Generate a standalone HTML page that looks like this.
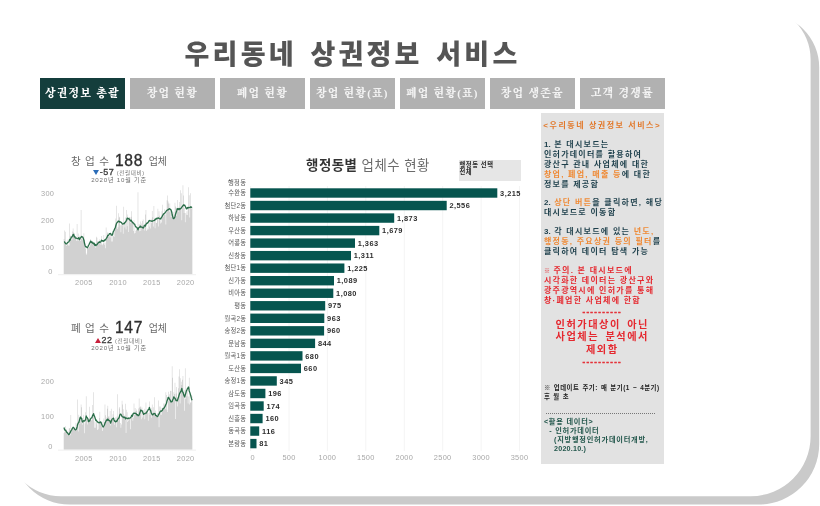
<!DOCTYPE html>
<html lang="ko"><head><meta charset="utf-8"><title>우리동네 상권정보 서비스</title>
<style>
html,body{margin:0;padding:0;background:#fff;}
body{width:820px;height:506px;position:relative;overflow:hidden;font-family:"Liberation Sans","Noto Sans CJK KR",sans-serif;}
.abs{position:absolute;}
.title{position:absolute;left:0;width:705px;top:34.5px;text-align:center;font-size:27px;line-height:40px;font-weight:900;color:#555;letter-spacing:3.2px;word-spacing:3px;white-space:nowrap;}
.tab{position:absolute;top:77.7px;width:85.3px;height:31.3px;line-height:31px;background:#b1b1b1;color:#f3f3f3;text-align:center;font-family:"Liberation Serif","Noto Serif CJK SC",serif;font-weight:900;font-size:11px;letter-spacing:1.2px;white-space:nowrap;}
.tab.on{background:#143e3c;color:#fff;}
.kt{position:absolute;left:39px;width:160px;text-align:center;white-space:nowrap;color:#6a6a6a;}
.kt .a{font-size:10.6px;letter-spacing:.2px;word-spacing:1.1px}
.kt .n{font-size:15.6px;position:relative;top:.6px;color:#2f2f2f;letter-spacing:.7px;-webkit-text-stroke:.35px #2f2f2f;margin:0 1.2px}
.kt .b{font-size:10px;}
.sub{position:absolute;left:39px;width:160px;text-align:center;white-space:nowrap;color:#6e6e6e;font-size:6.5px;line-height:9px;letter-spacing:.55px}
.sub .v{font-size:9px;color:#3a3a3a;letter-spacing:.5px;-webkit-text-stroke:.3px #3a3a3a}
.sub.s3{font-size:6.1px;letter-spacing:.8px}
.tri{display:inline-block;width:0;height:0;border-left:3.5px solid transparent;border-right:3.5px solid transparent;vertical-align:0px;margin-right:.6px}
.tri.up{border-bottom:5.2px solid #c8203c}
.tri.dn{border-top:5.2px solid #2b6cb8}
.sub .p{font-size:5.6px;color:#777;letter-spacing:.65px}
.ax text{font-size:7.4px;fill:#a8a8a8;font-family:"Liberation Sans",sans-serif;letter-spacing:.3px}
.bl{font-size:6.3px;letter-spacing:.25px;fill:#5a5a5a;font-family:"Liberation Sans","Noto Sans CJK KR",sans-serif;}
.bv{font-size:7.4px;font-weight:bold;fill:#2e2e2e;font-family:"Liberation Sans",sans-serif;letter-spacing:.45px}
.btitle{position:absolute;left:290px;width:156px;top:155.5px;text-align:center;font-size:13.4px;line-height:20px;color:#6b6b6b;white-space:nowrap;letter-spacing:.5px}
.btitle b{color:#333;}
.filter{position:absolute;left:459px;top:159.5px;width:61.5px;height:21.2px;background:#e6e6e6;font-size:6.3px;line-height:7.05px;font-weight:bold;color:#2a2a2a;letter-spacing:.55px}
.filter div{padding:1.0px 0 0 .5px}
.panel{position:absolute;left:540.5px;top:113.4px;width:123.5px;height:350.6px;background:#e2e2e2;}
.panel .t{position:absolute;left:3.4px;white-space:nowrap;font-weight:bold;font-size:8px;line-height:9.93px;letter-spacing:1.26px;word-spacing:0px;color:#1d3f4b;}
.panel .c{left:0;width:123.5px;text-align:center;}
.panel .o{color:#ef8a36}
.panel .c.o{color:#e2792b}
.panel .r{color:#e5282f}
</style></head><body>
<svg class="abs" style="left:0;top:0" width="820" height="506" viewBox="0 0 820 506">
<path d="M67.0 13.5 H765.2 A54.0 54.0 0 0 1 819.2 67.5 V444.0 A60.5 60.5 0 0 1 758.7 504.5 H69.5 A56.5 56.5 0 0 1 13.0 448.0 V67.5 A54.0 54.0 0 0 1 67.0 13.5 Z" fill="#cacaca"/>
<path d="M59.0 5.5 H756.6 A54.0 54.0 0 0 1 810.6 59.5 V436.2 A60.0 60.0 0 0 1 750.6 496.2 H61.0 A56.0 56.0 0 0 1 5.0 440.2 V59.5 A54.0 54.0 0 0 1 59.0 5.5 Z" fill="#fff"/>
</svg>
<div class="title">우리동네 상권정보 서비스</div>
<div class="tab on" style="left:39.7px">상권정보 총괄</div>
<div class="tab" style="left:129.7px">창업 현황</div>
<div class="tab" style="left:219.7px">폐업 현황</div>
<div class="tab" style="left:309.7px">창업 현황(표)</div>
<div class="tab" style="left:399.7px">폐업 현황(표)</div>
<div class="tab" style="left:489.7px">창업 생존율</div>
<div class="tab" style="left:579.7px">고객 경쟁률</div>

<div class="kt" style="top:148px;line-height:24px"><span class="a">창 업 수</span> <span class="n">188</span> <span class="b">업체</span></div>
<div class="sub" style="top:167.7px"><i class="tri dn"></i><span class="v">-57</span> <span class="p">(전월대비)</span></div>
<div class="sub s3" style="top:175.4px">2020년 10월 기준</div>
<div class="kt" style="top:315px;line-height:24px"><span class="a">폐 업 수</span> <span class="n">147</span> <span class="b">업체</span></div>
<div class="sub" style="top:336px"><i class="tri up"></i><span class="v">22</span> <span class="p">(전월대비)</span></div>
<div class="sub s3" style="top:342.5px">2020년 10월 기준</div>
<div class="btitle"><b>행정동별</b> 업체수 현황</div>
<div class="filter"><div>행정동 선택<br>전체</div></div>
<svg class="abs" style="left:0;top:0" width="820" height="506" viewBox="0 0 820 506">
<line x1="250.6" y1="186" x2="250.6" y2="451" stroke="#f4f4f4" stroke-width="1"/>
<line x1="289.0" y1="186" x2="289.0" y2="451" stroke="#f4f4f4" stroke-width="1"/>
<line x1="327.4" y1="186" x2="327.4" y2="451" stroke="#f4f4f4" stroke-width="1"/>
<line x1="365.8" y1="186" x2="365.8" y2="451" stroke="#f4f4f4" stroke-width="1"/>
<line x1="404.3" y1="186" x2="404.3" y2="451" stroke="#f4f4f4" stroke-width="1"/>
<line x1="442.7" y1="186" x2="442.7" y2="451" stroke="#f4f4f4" stroke-width="1"/>
<line x1="481.1" y1="186" x2="481.1" y2="451" stroke="#f4f4f4" stroke-width="1"/>
<line x1="519.5" y1="186" x2="519.5" y2="451" stroke="#f4f4f4" stroke-width="1"/>
<path d="M63.71 274.21L63.71 239.03 L64.28 239.03L64.28 230.44 L64.85 230.44L64.85 244.07 L65.42 244.07L65.42 231.68 L65.99 231.68L65.99 245.93 L66.56 245.93L66.56 242.42 L67.13 242.42L67.13 244.69 L67.70 244.69L67.70 239.47 L68.27 239.47L68.27 245.38 L68.84 245.38L68.84 245.51 L69.41 245.51L69.41 223.38 L69.97 223.38L69.97 235.96 L70.54 235.96L70.54 235.47 L71.11 235.47L71.11 239.66 L71.68 239.66L71.68 240.30 L72.25 240.30L72.25 231.52 L72.82 231.52L72.82 228.56 L73.39 228.56L73.39 232.61 L73.96 232.61L73.96 233.08 L74.53 233.08L74.53 236.02 L75.10 236.02L75.10 238.60 L75.67 238.60L75.67 237.32 L76.24 237.32L76.24 240.90 L76.80 240.90L76.80 223.99 L77.37 223.99L77.37 240.40 L77.94 240.40L77.94 233.61 L78.51 233.61L78.51 240.66 L79.08 240.66L79.08 236.67 L79.65 236.67L79.65 235.65 L80.22 235.65L80.22 240.98 L80.79 240.98L80.79 209.90 L81.36 209.90L81.36 238.79 L81.93 238.79L81.93 240.27 L82.50 240.27L82.50 238.86 L83.07 238.86L83.07 236.46 L83.63 236.46L83.63 233.17 L84.20 233.17L84.20 239.77 L84.77 239.77L84.77 242.57 L85.34 242.57L85.34 248.67 L85.91 248.67L85.91 253.46 L86.48 253.46L86.48 254.79 L87.05 254.79L87.05 248.33 L87.62 248.33L87.62 246.25 L88.19 246.25L88.19 248.13 L88.76 248.13L88.76 246.20 L89.33 246.20L89.33 246.91 L89.90 246.91L89.90 245.24 L90.46 245.24L90.46 239.08 L91.03 239.08L91.03 241.29 L91.60 241.29L91.60 242.00 L92.17 242.00L92.17 241.20 L92.74 241.20L92.74 241.40 L93.31 241.40L93.31 242.51 L93.88 242.51L93.88 245.99 L94.45 245.99L94.45 244.52 L95.02 244.52L95.02 247.28 L95.59 247.28L95.59 247.68 L96.16 247.68L96.16 236.87 L96.73 236.87L96.73 237.81 L97.29 237.81L97.29 241.32 L97.86 241.32L97.86 242.14 L98.43 242.14L98.43 241.26 L99.00 241.26L99.00 244.07 L99.57 244.07L99.57 239.16 L100.14 239.16L100.14 242.39 L100.71 242.39L100.71 245.02 L101.28 245.02L101.28 236.03 L101.85 236.03L101.85 244.01 L102.42 244.01L102.42 245.37 L102.99 245.37L102.99 243.54 L103.56 243.54L103.56 235.09 L104.12 235.09L104.12 244.73 L104.69 244.73L104.69 242.82 L105.26 242.82L105.26 248.15 L105.83 248.15L105.83 227.53 L106.40 227.53L106.40 239.73 L106.97 239.73L106.97 233.44 L107.54 233.44L107.54 232.35 L108.11 232.35L108.11 235.27 L108.68 235.27L108.68 234.54 L109.25 234.54L109.25 236.23 L109.82 236.23L109.82 237.48 L110.39 237.48L110.39 233.63 L110.95 233.63L110.95 241.57 L111.52 241.57L111.52 234.28 L112.09 234.28L112.09 241.49 L112.66 241.49L112.66 232.55 L113.23 232.55L113.23 236.11 L113.80 236.11L113.80 236.91 L114.37 236.91L114.37 229.34 L114.94 229.34L114.94 223.73 L115.51 223.73L115.51 218.59 L116.08 218.59L116.08 205.75 L116.65 205.75L116.65 226.73 L117.21 226.73L117.21 228.94 L117.78 228.94L117.78 227.22 L118.35 227.22L118.35 213.35 L118.92 213.35L118.92 217.50 L119.49 217.50L119.49 216.78 L120.06 216.78L120.06 225.21 L120.63 225.21L120.63 232.34 L121.20 232.34L121.20 221.97 L121.77 221.97L121.77 225.47 L122.34 225.47L122.34 223.71 L122.91 223.71L122.91 233.71 L123.48 233.71L123.48 206.78 L124.04 206.78L124.04 224.36 L124.61 224.36L124.61 227.55 L125.18 227.55L125.18 217.44 L125.75 217.44L125.75 229.40 L126.32 229.40L126.32 209.90 L126.89 209.90L126.89 226.25 L127.46 226.25L127.46 214.48 L128.03 214.48L128.03 232.12 L128.60 232.12L128.60 217.14 L129.17 217.14L129.17 217.06 L129.74 217.06L129.74 217.52 L130.31 217.52L130.31 222.88 L130.87 222.88L130.87 216.64 L131.44 216.64L131.44 211.23 L132.01 211.23L132.01 220.64 L132.58 220.64L132.58 223.02 L133.15 223.02L133.15 231.06 L133.72 231.06L133.72 220.26 L134.29 220.26L134.29 233.59 L134.86 233.59L134.86 232.93 L135.43 232.93L135.43 230.66 L136.00 230.66L136.00 229.53 L136.57 229.53L136.57 226.87 L137.14 226.87L137.14 229.98 L137.70 229.98L137.70 192.26 L138.27 192.26L138.27 227.07 L138.84 227.07L138.84 223.92 L139.41 223.92L139.41 231.36 L139.98 231.36L139.98 221.40 L140.55 221.40L140.55 231.02 L141.12 231.02L141.12 223.44 L141.69 223.44L141.69 225.39 L142.26 225.39L142.26 220.90 L142.83 220.90L142.83 219.41 L143.40 219.41L143.40 226.84 L143.97 226.84L143.97 230.51 L144.53 230.51L144.53 227.60 L145.10 227.60L145.10 214.50 L145.67 214.50L145.67 209.90 L146.24 209.90L146.24 230.88 L146.81 230.88L146.81 230.04 L147.38 230.04L147.38 228.46 L147.95 228.46L147.95 224.17 L148.52 224.17L148.52 229.30 L149.09 229.30L149.09 226.43 L149.66 226.43L149.66 220.01 L150.23 220.01L150.23 228.59 L150.80 228.59L150.80 218.81 L151.36 218.81L151.36 223.27 L151.93 223.27L151.93 210.93 L152.50 210.93L152.50 217.35 L153.07 217.35L153.07 226.59 L153.64 226.59L153.64 205.99 L154.21 205.99L154.21 221.33 L154.78 221.33L154.78 228.34 L155.35 228.34L155.35 220.29 L155.92 220.29L155.92 222.84 L156.49 222.84L156.49 223.02 L157.06 223.02L157.06 219.04 L157.63 219.04L157.63 208.73 L158.19 208.73L158.19 226.47 L158.76 226.47L158.76 211.32 L159.33 211.32L159.33 215.82 L159.90 215.82L159.90 220.13 L160.47 220.13L160.47 223.42 L161.04 223.42L161.04 222.48 L161.61 222.48L161.61 211.18 L162.18 211.18L162.18 204.71 L162.75 204.71L162.75 213.28 L163.32 213.28L163.32 216.59 L163.89 216.59L163.89 214.38 L164.46 214.38L164.46 209.18 L165.02 209.18L165.02 214.62 L165.59 214.62L165.59 224.39 L166.16 224.39L166.16 212.72 L166.73 212.72L166.73 200.31 L167.30 200.31L167.30 195.47 L167.87 195.47L167.87 201.60 L168.44 201.60L168.44 203.59 L169.01 203.59L169.01 211.63 L169.58 211.63L169.58 203.50 L170.15 203.50L170.15 208.25 L170.72 208.25L170.72 216.97 L171.29 216.97L171.29 214.61 L171.85 214.61L171.85 215.15 L172.42 215.15L172.42 212.33 L172.99 212.33L172.99 216.21 L173.56 216.21L173.56 212.17 L174.13 212.17L174.13 217.33 L174.70 217.33L174.70 202.63 L175.27 202.63L175.27 206.42 L175.84 206.42L175.84 207.80 L176.41 207.80L176.41 215.82 L176.98 215.82L176.98 199.90 L177.55 199.90L177.55 208.34 L178.12 208.34L178.12 211.76 L178.68 211.76L178.68 206.79 L179.25 206.79L179.25 202.07 L179.82 202.07L179.82 208.18 L180.39 208.18L180.39 190.23 L180.96 190.23L180.96 193.30 L181.53 193.30L181.53 220.16 L182.10 220.16L182.10 205.82 L182.67 205.82L182.67 185.15 L183.24 185.15L183.24 195.45 L183.81 195.45L183.81 212.91 L184.38 212.91L184.38 207.75 L184.95 207.75L184.95 222.33 L185.51 222.33L185.51 212.92 L186.08 212.92L186.08 214.84 L186.65 214.84L186.65 211.18 L187.22 211.18L187.22 214.92 L187.79 214.92L187.79 209.09 L188.36 209.09L188.36 187.30 L188.93 187.30L188.93 195.34 L189.50 195.34L189.50 217.45 L190.07 217.45L190.07 193.30 L190.64 193.30L190.64 206.02 L191.21 206.02L191.21 209.03 L191.78 209.03L191.78 206.66 L192.34 206.66L192.34 274.21 Z" fill="#d1d1d1"/>
<path d="M64.00 242.10 L64.57 241.99 L65.14 243.00 L65.71 243.70 L66.27 243.97 L66.84 243.72 L67.41 242.75 L67.98 242.24 L68.55 241.96 L69.12 241.38 L69.69 239.46 L70.26 240.03 L70.83 238.46 L71.40 237.17 L71.97 236.83 L72.54 235.85 L73.10 234.63 L73.67 234.51 L74.24 236.93 L74.81 236.40 L75.38 238.13 L75.95 238.04 L76.52 238.15 L77.09 238.56 L77.66 238.59 L78.23 238.51 L78.80 237.60 L79.37 239.55 L79.93 238.76 L80.50 237.90 L81.07 237.30 L81.64 236.48 L82.21 236.82 L82.78 237.21 L83.35 238.51 L83.92 240.20 L84.49 243.35 L85.06 245.41 L85.63 246.79 L86.20 246.75 L86.76 247.18 L87.33 247.69 L87.90 246.77 L88.47 245.46 L89.04 244.53 L89.61 243.22 L90.18 242.11 L90.75 241.00 L91.32 242.39 L91.89 241.98 L92.46 243.14 L93.03 242.84 L93.59 243.93 L94.16 243.21 L94.73 245.27 L95.30 244.54 L95.87 245.72 L96.44 244.88 L97.01 244.58 L97.58 243.61 L98.15 243.08 L98.72 242.53 L99.29 241.79 L99.86 242.46 L100.42 242.00 L100.99 241.32 L101.56 240.18 L102.13 240.96 L102.70 240.61 L103.27 241.39 L103.84 240.73 L104.41 240.75 L104.98 239.66 L105.55 239.86 L106.12 238.75 L106.69 237.94 L107.25 236.90 L107.82 235.32 L108.39 235.39 L108.96 234.68 L109.53 233.67 L110.10 233.54 L110.67 233.45 L111.24 235.05 L111.81 235.17 L112.38 235.20 L112.95 232.87 L113.52 231.04 L114.08 230.30 L114.65 228.85 L115.22 227.74 L115.79 226.06 L116.36 223.79 L116.93 222.71 L117.50 222.31 L118.07 221.22 L118.64 221.14 L119.21 222.02 L119.78 221.43 L120.35 222.10 L120.91 222.24 L121.48 222.59 L122.05 223.42 L122.62 224.13 L123.19 223.98 L123.76 223.43 L124.33 223.78 L124.90 222.29 L125.47 222.04 L126.04 221.10 L126.61 220.27 L127.18 218.23 L127.74 218.24 L128.31 218.74 L128.88 218.54 L129.45 219.64 L130.02 220.00 L130.59 220.95 L131.16 220.29 L131.73 221.47 L132.30 222.01 L132.87 222.84 L133.44 222.98 L134.01 224.06 L134.57 224.03 L135.14 225.59 L135.71 226.70 L136.28 227.17 L136.85 227.30 L137.42 228.55 L137.99 229.83 L138.56 227.93 L139.13 227.53 L139.70 227.15 L140.27 225.99 L140.84 227.19 L141.40 226.99 L141.97 227.03 L142.54 227.59 L143.11 228.14 L143.68 227.57 L144.25 225.63 L144.82 225.23 L145.39 225.99 L145.96 224.25 L146.53 223.78 L147.10 222.96 L147.67 223.17 L148.23 222.20 L148.80 221.18 L149.37 220.40 L149.94 220.89 L150.51 220.94 L151.08 220.82 L151.65 221.25 L152.22 221.28 L152.79 220.81 L153.36 220.69 L153.93 220.51 L154.50 220.35 L155.06 219.25 L155.63 219.60 L156.20 218.32 L156.77 218.80 L157.34 218.19 L157.91 218.20 L158.48 217.81 L159.05 218.50 L159.62 218.78 L160.19 218.67 L160.76 219.02 L161.33 217.46 L161.89 216.83 L162.46 215.74 L163.03 214.98 L163.60 214.05 L164.17 213.53 L164.74 213.24 L165.31 212.32 L165.88 211.69 L166.45 210.74 L167.02 210.36 L167.59 209.83 L168.15 209.81 L168.72 209.34 L169.29 208.59 L169.86 209.16 L170.43 209.38 L171.00 209.85 L171.57 211.48 L172.14 214.53 L172.71 216.67 L173.28 218.58 L173.85 218.58 L174.42 217.91 L174.98 216.41 L175.55 214.23 L176.12 212.53 L176.69 210.89 L177.26 208.59 L177.83 209.29 L178.40 208.73 L178.97 209.72 L179.54 208.67 L180.11 209.17 L180.68 208.57 L181.25 208.10 L181.81 207.02 L182.38 206.60 L182.95 205.73 L183.52 204.82 L184.09 205.42 L184.66 205.11 L185.23 206.19 L185.80 207.47 L186.37 208.85 L186.94 208.58 L187.51 207.54 L188.08 208.08 L188.64 207.28 L189.21 207.28 L189.78 207.69 L190.35 207.45 L190.92 206.80 L191.49 207.37 L192.06 207.55" fill="none" stroke="#2a6e49" stroke-width="1.3" stroke-linejoin="round"/>
<path d="M63.71 449.63L63.71 433.01 L64.28 433.01L64.28 431.85 L64.85 431.85L64.85 430.17 L65.42 430.17L65.42 426.21 L65.99 426.21L65.99 429.52 L66.56 429.52L66.56 431.13 L67.13 431.13L67.13 435.35 L67.70 435.35L67.70 431.41 L68.27 431.41L68.27 434.58 L68.84 434.58L68.84 428.18 L69.41 428.18L69.41 428.32 L69.97 428.32L69.97 435.20 L70.54 435.20L70.54 414.98 L71.11 414.98L71.11 428.53 L71.68 428.53L71.68 429.26 L72.25 429.26L72.25 429.27 L72.82 429.27L72.82 425.99 L73.39 425.99L73.39 428.59 L73.96 428.59L73.96 430.46 L74.53 430.46L74.53 428.92 L75.10 428.92L75.10 429.45 L75.67 429.45L75.67 422.73 L76.24 422.73L76.24 426.99 L76.80 426.99L76.80 424.04 L77.37 424.04L77.37 399.42 L77.94 399.42L77.94 431.55 L78.51 431.55L78.51 414.69 L79.08 414.69L79.08 417.19 L79.65 417.19L79.65 423.66 L80.22 423.66L80.22 417.18 L80.79 417.18L80.79 404.61 L81.36 404.61L81.36 407.19 L81.93 407.19L81.93 424.76 L82.50 424.76L82.50 420.50 L83.07 420.50L83.07 414.75 L83.63 414.75L83.63 422.08 L84.20 422.08L84.20 433.28 L84.77 433.28L84.77 423.44 L85.34 423.44L85.34 412.32 L85.91 412.32L85.91 396.31 L86.48 396.31L86.48 418.41 L87.05 418.41L87.05 424.61 L87.62 424.61L87.62 418.61 L88.19 418.61L88.19 422.34 L88.76 422.34L88.76 418.71 L89.33 418.71L89.33 406.68 L89.90 406.68L89.90 419.66 L90.46 419.66L90.46 419.95 L91.03 419.95L91.03 420.41 L91.60 420.41L91.60 419.85 L92.17 419.85L92.17 404.91 L92.74 404.91L92.74 417.48 L93.31 417.48L93.31 392.16 L93.88 392.16L93.88 421.51 L94.45 421.51L94.45 427.73 L95.02 427.73L95.02 427.66 L95.59 427.66L95.59 422.22 L96.16 422.22L96.16 421.96 L96.73 421.96L96.73 424.15 L97.29 424.15L97.29 429.93 L97.86 429.93L97.86 429.19 L98.43 429.19L98.43 421.45 L99.00 421.45L99.00 417.92 L99.57 417.92L99.57 411.87 L100.14 411.87L100.14 423.94 L100.71 423.94L100.71 423.13 L101.28 423.13L101.28 425.71 L101.85 425.71L101.85 421.60 L102.42 421.60L102.42 431.02 L102.99 431.02L102.99 428.26 L103.56 428.26L103.56 418.42 L104.12 418.42L104.12 422.04 L104.69 422.04L104.69 404.61 L105.26 404.61L105.26 415.22 L105.83 415.22L105.83 419.48 L106.40 419.48L106.40 417.50 L106.97 417.50L106.97 408.83 L107.54 408.83L107.54 405.65 L108.11 405.65L108.11 416.70 L108.68 416.70L108.68 416.13 L109.25 416.13L109.25 418.48 L109.82 418.48L109.82 410.95 L110.39 410.95L110.39 425.58 L110.95 425.58L110.95 408.76 L111.52 408.76L111.52 419.07 L112.09 419.07L112.09 419.91 L112.66 419.91L112.66 414.18 L113.23 414.18L113.23 410.92 L113.80 410.92L113.80 419.89 L114.37 419.89L114.37 424.66 L114.94 424.66L114.94 419.88 L115.51 419.88L115.51 417.24 L116.08 417.24L116.08 427.25 L116.65 427.25L116.65 416.46 L117.21 416.46L117.21 394.23 L117.78 394.23L117.78 421.43 L118.35 421.43L118.35 418.17 L118.92 418.17L118.92 408.42 L119.49 408.42L119.49 407.03 L120.06 407.03L120.06 422.99 L120.63 422.99L120.63 427.84 L121.20 427.84L121.20 424.58 L121.77 424.58L121.77 400.68 L122.34 400.68L122.34 404.61 L122.91 404.61L122.91 409.27 L123.48 409.27L123.48 413.74 L124.04 413.74L124.04 418.51 L124.61 418.51L124.61 415.46 L125.18 415.46L125.18 403.85 L125.75 403.85L125.75 432.93 L126.32 432.93L126.32 409.79 L126.89 409.79L126.89 412.29 L127.46 412.29L127.46 422.07 L128.03 422.07L128.03 420.82 L128.60 420.82L128.60 417.71 L129.17 417.71L129.17 418.41 L129.74 418.41L129.74 418.13 L130.31 418.13L130.31 429.19 L130.87 429.19L130.87 416.20 L131.44 416.20L131.44 416.49 L132.01 416.49L132.01 413.66 L132.58 413.66L132.58 420.66 L133.15 420.66L133.15 417.71 L133.72 417.71L133.72 403.57 L134.29 403.57L134.29 414.98 L134.86 414.98L134.86 407.96 L135.43 407.96L135.43 411.38 L136.00 411.38L136.00 409.51 L136.57 409.51L136.57 410.90 L137.14 410.90L137.14 415.69 L137.70 415.69L137.70 413.71 L138.27 413.71L138.27 408.51 L138.84 408.51L138.84 398.38 L139.41 398.38L139.41 407.58 L139.98 407.58L139.98 407.14 L140.55 407.14L140.55 406.21 L141.12 406.21L141.12 419.32 L141.69 419.32L141.69 407.52 L142.26 407.52L142.26 417.62 L142.83 417.62L142.83 412.34 L143.40 412.34L143.40 410.31 L143.97 410.31L143.97 408.63 L144.53 408.63L144.53 419.16 L145.10 419.16L145.10 411.66 L145.67 411.66L145.67 402.53 L146.24 402.53L146.24 410.73 L146.81 410.73L146.81 409.76 L147.38 409.76L147.38 413.05 L147.95 413.05L147.95 420.80 L148.52 420.80L148.52 412.98 L149.09 412.98L149.09 401.56 L149.66 401.56L149.66 415.06 L150.23 415.06L150.23 411.28 L150.80 411.28L150.80 407.75 L151.36 407.75L151.36 417.80 L151.93 417.80L151.93 404.61 L152.50 404.61L152.50 412.90 L153.07 412.90L153.07 407.23 L153.64 407.23L153.64 413.51 L154.21 413.51L154.21 397.32 L154.78 397.32L154.78 412.83 L155.35 412.83L155.35 410.43 L155.92 410.43L155.92 416.87 L156.49 416.87L156.49 415.31 L157.06 415.31L157.06 412.96 L157.63 412.96L157.63 417.45 L158.19 417.45L158.19 400.46 L158.76 400.46L158.76 427.35 L159.33 427.35L159.33 406.56 L159.90 406.56L159.90 414.69 L160.47 414.69L160.47 406.46 L161.04 406.46L161.04 414.73 L161.61 414.73L161.61 408.46 L162.18 408.46L162.18 409.37 L162.75 409.37L162.75 408.51 L163.32 408.51L163.32 403.47 L163.89 403.47L163.89 408.55 L164.46 408.55L164.46 403.39 L165.02 403.39L165.02 409.03 L165.59 409.03L165.59 392.16 L166.16 392.16L166.16 395.12 L166.73 395.12L166.73 409.74 L167.30 409.74L167.30 411.89 L167.87 411.89L167.87 401.25 L168.44 401.25L168.44 391.81 L169.01 391.81L169.01 394.19 L169.58 394.19L169.58 397.95 L170.15 397.95L170.15 390.74 L170.72 390.74L170.72 390.92 L171.29 390.92L171.29 402.26 L171.85 402.26L171.85 366.22 L172.42 366.22L172.42 377.69 L172.99 377.69L172.99 400.86 L173.56 400.86L173.56 392.32 L174.13 392.32L174.13 393.88 L174.70 393.88L174.70 382.82 L175.27 382.82L175.27 419.09 L175.84 419.09L175.84 393.57 L176.41 393.57L176.41 386.90 L176.98 386.90L176.98 406.38 L177.55 406.38L177.55 396.84 L178.12 396.84L178.12 388.20 L178.68 388.20L178.68 376.60 L179.25 376.60L179.25 369.15 L179.82 369.15L179.82 403.61 L180.39 403.61L180.39 378.35 L180.96 378.35L180.96 381.77 L181.53 381.77L181.53 384.90 L182.10 384.90L182.10 379.71 L182.67 379.71L182.67 376.03 L183.24 376.03L183.24 396.44 L183.81 396.44L183.81 389.97 L184.38 389.97L184.38 410.69 L184.95 410.69L184.95 368.30 L185.51 368.30L185.51 398.91 L186.08 398.91L186.08 389.81 L186.65 389.81L186.65 396.16 L187.22 396.16L187.22 386.41 L187.79 386.41L187.79 403.51 L188.36 403.51L188.36 396.41 L188.93 396.41L188.93 377.63 L189.50 377.63L189.50 404.59 L190.07 404.59L190.07 402.48 L190.64 402.48L190.64 402.59 L191.21 402.59L191.21 395.05 L191.78 395.05L191.78 396.17 L192.34 396.17L192.34 449.63 Z" fill="#d1d1d1"/>
<path d="M64.00 427.52 L64.57 429.62 L65.14 430.30 L65.71 430.11 L66.27 431.63 L66.84 432.40 L67.41 432.79 L67.98 433.60 L68.55 434.55 L69.12 434.36 L69.69 433.37 L70.26 432.40 L70.83 431.00 L71.40 430.19 L71.97 429.31 L72.54 428.07 L73.10 427.37 L73.67 427.57 L74.24 428.30 L74.81 429.46 L75.38 429.89 L75.95 429.43 L76.52 428.93 L77.09 426.96 L77.66 424.43 L78.23 422.90 L78.80 422.45 L79.37 420.48 L79.93 418.33 L80.50 416.99 L81.07 418.49 L81.64 418.23 L82.21 421.35 L82.78 421.95 L83.35 421.16 L83.92 420.57 L84.49 421.13 L85.06 420.32 L85.63 419.47 L86.20 416.00 L86.76 417.03 L87.33 417.79 L87.90 418.96 L88.47 421.62 L89.04 420.54 L89.61 421.15 L90.18 419.49 L90.75 418.55 L91.32 417.87 L91.89 417.79 L92.46 415.92 L93.03 414.94 L93.59 413.68 L94.16 415.84 L94.73 416.88 L95.30 418.68 L95.87 420.53 L96.44 420.18 L97.01 421.63 L97.58 421.73 L98.15 422.70 L98.72 422.71 L99.29 422.40 L99.86 422.87 L100.42 421.81 L100.99 422.25 L101.56 423.78 L102.13 425.18 L102.70 426.32 L103.27 426.98 L103.84 426.03 L104.41 424.94 L104.98 423.27 L105.55 421.97 L106.12 420.80 L106.69 419.85 L107.25 420.34 L107.82 418.99 L108.39 420.04 L108.96 420.65 L109.53 420.57 L110.10 421.26 L110.67 423.20 L111.24 421.13 L111.81 419.82 L112.38 418.74 L112.95 418.52 L113.52 418.13 L114.08 419.94 L114.65 421.15 L115.22 421.45 L115.79 421.89 L116.36 421.02 L116.93 421.30 L117.50 419.68 L118.07 418.93 L118.64 418.31 L119.21 417.40 L119.78 415.00 L120.35 414.12 L120.91 414.23 L121.48 415.33 L122.05 416.43 L122.62 416.89 L123.19 416.93 L123.76 417.66 L124.33 417.18 L124.90 417.11 L125.47 418.88 L126.04 417.96 L126.61 418.23 L127.18 418.49 L127.74 418.40 L128.31 418.64 L128.88 418.01 L129.45 418.27 L130.02 418.03 L130.59 417.67 L131.16 416.72 L131.73 415.26 L132.30 416.21 L132.87 414.43 L133.44 413.44 L134.01 413.23 L134.57 413.41 L135.14 413.24 L135.71 413.70 L136.28 413.77 L136.85 414.93 L137.42 414.72 L137.99 415.54 L138.56 415.63 L139.13 414.88 L139.70 413.31 L140.27 411.63 L140.84 410.01 L141.40 410.73 L141.97 410.57 L142.54 411.85 L143.11 413.15 L143.68 414.40 L144.25 413.72 L144.82 413.72 L145.39 413.06 L145.96 413.20 L146.53 412.68 L147.10 411.70 L147.67 410.78 L148.23 409.52 L148.80 409.33 L149.37 407.44 L149.94 409.75 L150.51 410.06 L151.08 412.21 L151.65 413.73 L152.22 414.57 L152.79 414.80 L153.36 414.18 L153.93 413.47 L154.50 413.64 L155.06 413.68 L155.63 415.49 L156.20 415.29 L156.77 416.12 L157.34 416.68 L157.91 416.12 L158.48 414.43 L159.05 414.11 L159.62 412.68 L160.19 411.47 L160.76 410.99 L161.33 411.30 L161.89 410.64 L162.46 410.19 L163.03 408.51 L163.60 408.61 L164.17 407.86 L164.74 406.92 L165.31 405.88 L165.88 404.44 L166.45 403.48 L167.02 400.89 L167.59 399.57 L168.15 397.36 L168.72 397.38 L169.29 398.91 L169.86 399.73 L170.43 400.69 L171.00 402.12 L171.57 401.36 L172.14 401.59 L172.71 400.08 L173.28 398.64 L173.85 396.81 L174.42 398.07 L174.98 398.08 L175.55 399.42 L176.12 400.66 L176.69 400.40 L177.26 400.79 L177.83 399.10 L178.40 397.61 L178.97 395.53 L179.54 393.64 L180.11 392.68 L180.68 391.70 L181.25 390.29 L181.81 388.35 L182.38 391.82 L182.95 392.00 L183.52 393.98 L184.09 396.04 L184.66 397.02 L185.23 395.00 L185.80 393.09 L186.37 390.84 L186.94 389.80 L187.51 388.57 L188.08 388.01 L188.64 387.04 L189.21 390.95 L189.78 392.38 L190.35 394.14 L190.92 396.40 L191.49 398.63 L192.06 400.25" fill="none" stroke="#2a6e49" stroke-width="1.3" stroke-linejoin="round"/>
<line x1="58" y1="274.7" x2="196" y2="274.7" stroke="#efefef"/>
<line x1="58" y1="450.1" x2="196" y2="450.1" stroke="#efefef"/>
<g class="ax">
<text x="41" y="196.1">300</text>
<text x="41" y="223.0">200</text>
<text x="41" y="249.9">100</text>
<text x="48.3" y="273.5">0</text>
<text x="41" y="384.3">200</text>
<text x="41" y="418.7">100</text>
<text x="48.3" y="448.8">0</text>
<text x="83.8" y="284.8" text-anchor="middle">2005</text>
<text x="83.8" y="461.2" text-anchor="middle">2005</text>
<text x="118.0" y="284.8" text-anchor="middle">2010</text>
<text x="118.0" y="461.2" text-anchor="middle">2010</text>
<text x="151.8" y="284.8" text-anchor="middle">2015</text>
<text x="151.8" y="461.2" text-anchor="middle">2015</text>
<text x="185.7" y="284.8" text-anchor="middle">2020</text>
<text x="185.7" y="461.2" text-anchor="middle">2020</text>
<text x="252.6" y="460.3" text-anchor="middle">0</text>
<text x="289.0" y="460.3" text-anchor="middle">500</text>
<text x="327.4" y="460.3" text-anchor="middle">1000</text>
<text x="365.8" y="460.3" text-anchor="middle">1500</text>
<text x="404.3" y="460.3" text-anchor="middle">2000</text>
<text x="442.7" y="460.3" text-anchor="middle">2500</text>
<text x="481.1" y="460.3" text-anchor="middle">3000</text>
<text x="519.5" y="460.3" text-anchor="middle">3500</text>
</g>
<rect x="250.3" y="188.30" width="247.0" height="9.4" fill="#06554f"/>
<text class="bl" x="246.3" y="195.2" text-anchor="end">수완동</text>
<text class="bv" x="500.1" y="195.6">3,215</text>
<rect x="250.3" y="200.83" width="196.4" height="9.4" fill="#06554f"/>
<text class="bl" x="246.3" y="207.7" text-anchor="end">첨단2동</text>
<text class="bv" x="449.5" y="208.1">2,556</text>
<rect x="250.3" y="213.36" width="143.9" height="9.4" fill="#06554f"/>
<text class="bl" x="246.3" y="220.3" text-anchor="end">하남동</text>
<text class="bv" x="397.0" y="220.7">1,873</text>
<rect x="250.3" y="225.89" width="129.0" height="9.4" fill="#06554f"/>
<text class="bl" x="246.3" y="232.8" text-anchor="end">우산동</text>
<text class="bv" x="382.1" y="233.2">1,679</text>
<rect x="250.3" y="238.42" width="104.7" height="9.4" fill="#06554f"/>
<text class="bl" x="246.3" y="245.3" text-anchor="end">어룡동</text>
<text class="bv" x="357.8" y="245.7">1,363</text>
<rect x="250.3" y="250.95" width="100.7" height="9.4" fill="#06554f"/>
<text class="bl" x="246.3" y="257.9" text-anchor="end">신창동</text>
<text class="bv" x="353.8" y="258.2">1,311</text>
<rect x="250.3" y="263.48" width="94.1" height="9.4" fill="#06554f"/>
<text class="bl" x="246.3" y="270.4" text-anchor="end">첨단1동</text>
<text class="bv" x="347.2" y="270.8">1,225</text>
<rect x="250.3" y="276.01" width="83.7" height="9.4" fill="#06554f"/>
<text class="bl" x="246.3" y="282.9" text-anchor="end">신가동</text>
<text class="bv" x="336.8" y="283.3">1,089</text>
<rect x="250.3" y="288.54" width="83.0" height="9.4" fill="#06554f"/>
<text class="bl" x="246.3" y="295.4" text-anchor="end">비아동</text>
<text class="bv" x="336.1" y="295.8">1,080</text>
<rect x="250.3" y="301.07" width="74.9" height="9.4" fill="#06554f"/>
<text class="bl" x="246.3" y="308.0" text-anchor="end">평동</text>
<text class="bv" x="328.0" y="308.4">975</text>
<rect x="250.3" y="313.60" width="74.0" height="9.4" fill="#06554f"/>
<text class="bl" x="246.3" y="320.5" text-anchor="end">월곡2동</text>
<text class="bv" x="327.1" y="320.9">963</text>
<rect x="250.3" y="326.13" width="73.8" height="9.4" fill="#06554f"/>
<text class="bl" x="246.3" y="333.0" text-anchor="end">송정2동</text>
<text class="bv" x="326.9" y="333.4">960</text>
<rect x="250.3" y="338.66" width="64.8" height="9.4" fill="#06554f"/>
<text class="bl" x="246.3" y="345.6" text-anchor="end">운남동</text>
<text class="bv" x="317.9" y="346.0">844</text>
<rect x="250.3" y="351.19" width="52.2" height="9.4" fill="#06554f"/>
<text class="bl" x="246.3" y="358.1" text-anchor="end">월곡1동</text>
<text class="bv" x="305.3" y="358.5">680</text>
<rect x="250.3" y="363.72" width="50.7" height="9.4" fill="#06554f"/>
<text class="bl" x="246.3" y="370.6" text-anchor="end">도산동</text>
<text class="bv" x="303.8" y="371.0">660</text>
<rect x="250.3" y="376.25" width="26.5" height="9.4" fill="#06554f"/>
<text class="bl" x="246.3" y="383.1" text-anchor="end">송정1동</text>
<text class="bv" x="279.6" y="383.6">345</text>
<rect x="250.3" y="388.78" width="15.1" height="9.4" fill="#06554f"/>
<text class="bl" x="246.3" y="395.7" text-anchor="end">삼도동</text>
<text class="bv" x="268.2" y="396.1">196</text>
<rect x="250.3" y="401.31" width="13.4" height="9.4" fill="#06554f"/>
<text class="bl" x="246.3" y="408.2" text-anchor="end">임곡동</text>
<text class="bv" x="266.5" y="408.6">174</text>
<rect x="250.3" y="413.84" width="12.3" height="9.4" fill="#06554f"/>
<text class="bl" x="246.3" y="420.7" text-anchor="end">신흥동</text>
<text class="bv" x="265.4" y="421.1">160</text>
<rect x="250.3" y="426.37" width="8.9" height="9.4" fill="#06554f"/>
<text class="bl" x="246.3" y="433.3" text-anchor="end">동곡동</text>
<text class="bv" x="262.0" y="433.7">116</text>
<rect x="250.3" y="438.90" width="6.2" height="9.4" fill="#06554f"/>
<text class="bl" x="246.3" y="445.8" text-anchor="end">본량동</text>
<text class="bv" x="259.3" y="446.2">81</text>
<text class="bl" x="246.3" y="185.2" text-anchor="end" style="letter-spacing:.3px">행정동</text>
</svg>
<div class="panel">
<div class="t c o" style="top:8px;letter-spacing:1.55px;word-spacing:0">&lt;우리동네 상권정보 서비스&gt;</div>
<div class="t" style="top:27px"><span style="letter-spacing:.1px">1.</span> 본 대시보드는<br>인허가데이터를 활용하여<br>광산구 관내 사업체에 대한<br><span class="o">창업, 폐업, 매출 등</span>에 대한<br>정보를 제공함</div>
<div class="t" style="top:84.9px"><span style="letter-spacing:.1px">2.</span> <span class="o">상단 버튼</span>을 클릭하면, 해당<br>대시보드로 이동함</div>
<div class="t" style="top:114px"><span style="letter-spacing:.1px">3.</span> 각 대시보드에 있는 <span class="o">년도,</span><br><span class="o">행정동, 주요상권 등의 필터</span>를<br>클릭하여 데이터 탐색 가능</div>
<div class="t r" style="top:152.3px;line-height:10.05px"><span style="font-size:6px;letter-spacing:0">※</span> 주의. 본 대시보드에<br>시각화한 데이터는 광산구와<br>광주광역시에 인허가를 통해<br>창·폐업한 사업체에 한함</div>
<div class="t c r" style="top:193.4px;letter-spacing:1.3px;-webkit-text-stroke:.4px #e5282f">----------</div>
<div class="t c r" style="top:205.5px;font-size:10.2px;line-height:12.45px;letter-spacing:1.5px;word-spacing:2px">인허가대상이 아닌<br>사업체는 분석에서<br>제외함</div>
<div class="t c r" style="top:244px;letter-spacing:1.3px;-webkit-text-stroke:.4px #e5282f">----------</div>
<div class="t" style="top:270.8px;font-size:6.4px;line-height:8.9px;letter-spacing:.5px;word-spacing:.8px;color:#222">※ 업데이트 주기: 매 분기(1 ~ 4분기)<br>후 월 초</div>
<div class="abs" style="left:5.5px;top:299.4px;width:108.6px;border-top:1px dotted #777;height:0"></div>
<div class="t" style="top:304.7px;font-size:7.2px;line-height:8.87px;letter-spacing:.78px;word-spacing:0;color:#23574c">&lt;활용 데이터&gt;<br><span style="padding-left:5.3px">- 인허가데이터</span><br><span style="padding-left:10.1px">(지방행정인허가데이터개방,</span><br><span style="padding-left:10.1px;letter-spacing:.2px">2020.10.)</span></div>
</div>
</body></html>
